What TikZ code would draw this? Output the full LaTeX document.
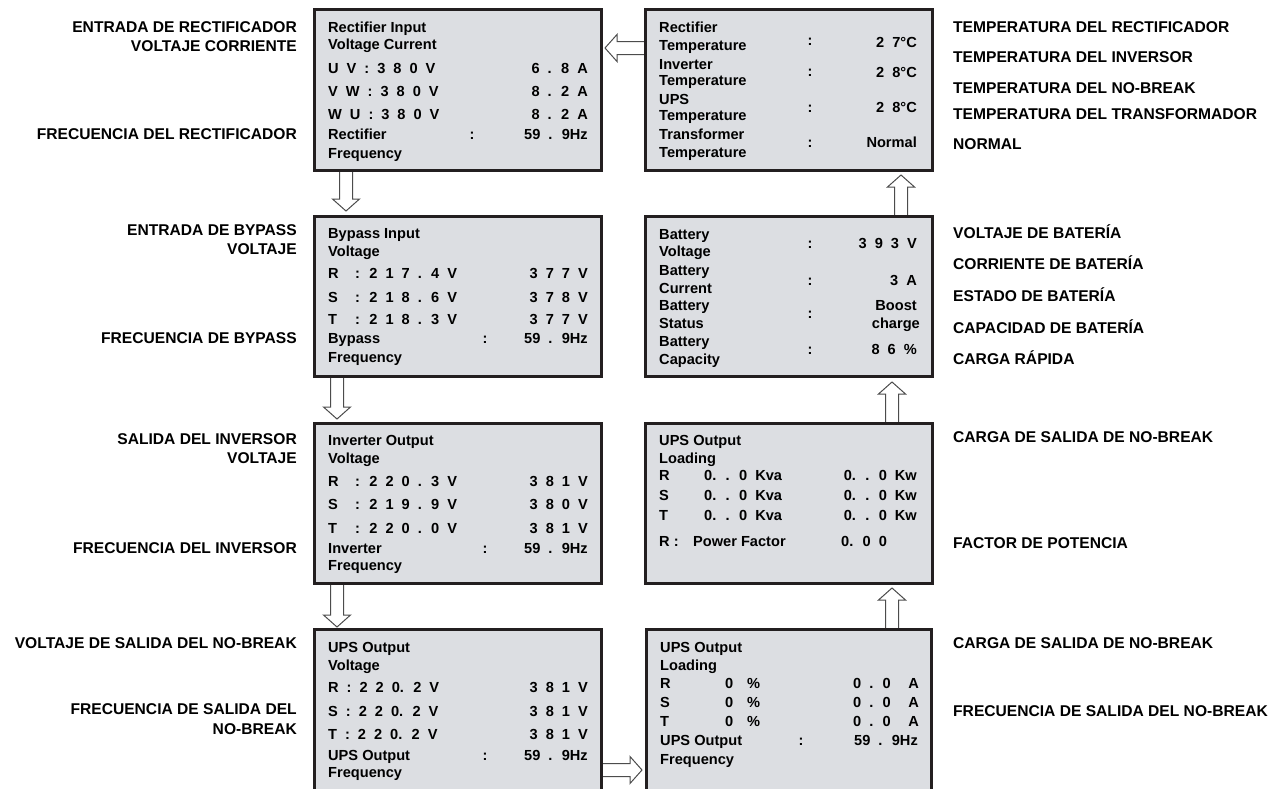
\documentclass[tikz,border=0pt]{standalone}
\usepackage{fontspec}
\setmainfont{Liberation Sans}
\usetikzlibrary{calc, backgrounds}
\definecolor{lcd}{RGB}{220,222,226}
\definecolor{frame}{RGB}{35,31,32}

\begin{document}
\begin{tikzpicture}[x=1pt, y=-1pt,
    panel/.style={rectangle, draw=frame, fill=lcd, line width=3pt, minimum width=287pt, minimum height=160pt, inner sep=0pt, outer sep=0pt},
    txt/.style={anchor=base west, inner sep=0pt, font=\fontsize{14.6}{17}\selectfont\bfseries},
    dat/.style={txt, font={\fontsize{14.6}{17}\selectfont\bfseries\spaceskip=8pt\relax}},
    dval/.style={dat, anchor=base east},
    sep/.style={txt, anchor=base},
    lbl/.style={anchor=base east, inner sep=0pt, font=\fontsize{15.6}{18}\selectfont\bfseries},
    rlbl/.style={lbl, anchor=base west},
    blk/.style={draw=black!70, line width=1pt, fill=white,
        to path={($(\tikztostart)!6.5pt!90:(\tikztotarget)$)
            -- ($(\tikztotarget)!12pt!(\tikztostart)!6.5pt!90:(\tikztotarget)$)
            -- ($(\tikztotarget)!12pt!(\tikztostart)!13.5pt!90:(\tikztotarget)$)
            -- (\tikztotarget)
            -- ($(\tikztotarget)!12pt!(\tikztostart)!13.5pt!-90:(\tikztotarget)$)
            -- ($(\tikztotarget)!12pt!(\tikztostart)!6.5pt!-90:(\tikztotarget)$)
            -- ($(\tikztostart)!6.5pt!-90:(\tikztotarget)$) -- cycle}}
]
\useasboundingbox (0,0) rectangle (1281,788);
\clip (0,0) rectangle (1281,788);

% display panels
\node[panel, minimum height=161pt] (rectin) at (458,90) {};
\node[panel] (bypass) at (458,296.5) {};
\node[panel] (invout) at (458,503.5) {};
\node[panel, minimum height=169pt] (upsvolt) at (458,714) {};
\node[panel, minimum height=161pt] (temp) at (789,90) {};
\node[panel] (batt) at (789,296.5) {};
\node[panel] (loadkw) at (789,503.5) {};
\node[panel, minimum width=285pt, minimum height=169pt] (loadamp) at (789,714) {};

% rectifier input
\node[txt] (rect1) at (328,32) {Rectifier Input};
\node[txt] (rect2) at (328,49) {Voltage Current};
\node[dat] (rect3) at (328,73) {U V : 3 8 0 V};
\node[dval] (rect3v) at (588,73) {6 . 8 A};
\node[dat] (rect4) at (328,96) {V W : 3 8 0 V};
\node[dval] (rect4v) at (588,96) {8 . 2 A};
\node[dat] (rect5) at (328,119) {W U : 3 8 0 V};
\node[dval] (rect5v) at (588,119) {8 . 2 A};
\node[txt] (rect6) at (328,139) {Rectifier};
\node[sep] (rect6c) at (472,139) {:};
\node[dval] (rect6v) at (588,139) {59 . 9Hz};
\node[txt] (rect7) at (328,158) {Frequency};

% bypass input
\node[txt] (byp1) at (328,238) {Bypass Input};
\node[txt] (byp2) at (328,256) {Voltage};
\node[dat] (byp3) at (328,278) {\makebox[27pt][l]{R}: 2 1 7 . 4 V};
\node[dval] (byp3v) at (588,278) {3 7 7 V};
\node[dat] (byp4) at (328,302) {\makebox[27pt][l]{S}: 2 1 8 . 6 V};
\node[dval] (byp4v) at (588,302) {3 7 8 V};
\node[dat] (byp5) at (328,324) {\makebox[27pt][l]{T}: 2 1 8 . 3 V};
\node[dval] (byp5v) at (588,324) {3 7 7 V};
\node[txt] (byp6) at (328,343) {Bypass};
\node[sep] (byp6c) at (485,343) {:};
\node[dval] (byp6v) at (588,343) {59 . 9Hz};
\node[txt] (byp7) at (328,362) {Frequency};

% inverter output
\node[txt] (inv1) at (328,445) {Inverter Output};
\node[txt] (inv2) at (328,463) {Voltage};
\node[dat] (inv3) at (328,486) {\makebox[27pt][l]{R}: 2 2 0 . 3 V};
\node[dval] (inv3v) at (588,486) {3 8 1 V};
\node[dat] (inv4) at (328,509) {\makebox[27pt][l]{S}: 2 1 9 . 9 V};
\node[dval] (inv4v) at (588,509) {3 8 0 V};
\node[dat] (inv5) at (328,533) {\makebox[27pt][l]{T}: 2 2 0 . 0 V};
\node[dval] (inv5v) at (588,533) {3 8 1 V};
\node[txt] (inv6) at (328,553) {Inverter};
\node[sep] (inv6c) at (485,553) {:};
\node[dval] (inv6v) at (588,553) {59 . 9Hz};
\node[txt] (inv7) at (328,570) {Frequency};

% ups output voltage
\node[txt] (uv1) at (328,652) {UPS Output};
\node[txt] (uv2) at (328,670) {Voltage};
\node[dat] (uv3) at (328,692) {R : 2 2 0. 2 V};
\node[dval] (uv3v) at (588,692) {3 8 1 V};
\node[dat] (uv4) at (328,716) {S : 2 2 0. 2 V};
\node[dval] (uv4v) at (588,716) {3 8 1 V};
\node[dat] (uv5) at (328,739) {T : 2 2 0. 2 V};
\node[dval] (uv5v) at (588,739) {3 8 1 V};
\node[txt] (uv6) at (328,760) {UPS Output};
\node[sep] (uv6c) at (485,760) {:};
\node[dval] (uv6v) at (588,760) {59 . 9Hz};
\node[txt] (uv7) at (328,777) {Frequency};

% temperatures
\node[txt] (tmp1) at (659,32) {Rectifier};
\node[txt] (tmp2) at (659,50) {Temperature};
\node[txt] (tmp3) at (659,69) {Inverter};
\node[txt] (tmp4) at (659,85.5) {Temperature};
\node[txt] (tmp5) at (659,104) {UPS};
\node[txt] (tmp6) at (659,120.5) {Temperature};
\node[txt] (tmp7) at (659,139) {Transformer};
\node[txt] (tmp8) at (659,157) {Temperature};
\node[sep] (tmp1c) at (810,45) {:};
\node[dval] (tmp1v) at (917,47) {2 7°C};
\node[sep] (tmp2c) at (810,76) {:};
\node[dval] (tmp2v) at (917,77) {2 8°C};
\node[sep] (tmp3c) at (810,112) {:};
\node[dval] (tmp3v) at (917,112.5) {2 8°C};
\node[sep] (tmp4c) at (810,147) {:};
\node[dval] (tmp4v) at (917,147.5) {Normal};

% battery
\node[txt] (bat1) at (659,239) {Battery};
\node[txt] (bat2) at (659,256) {Voltage};
\node[txt] (bat3) at (659,275.5) {Battery};
\node[txt] (bat4) at (659,293) {Current};
\node[txt] (bat5) at (659,310.5) {Battery};
\node[txt] (bat6) at (659,328) {Status};
\node[txt] (bat7) at (659,346) {Battery};
\node[txt] (bat8) at (659,364) {Capacity};
\node[sep] (bat1c) at (810,248) {:};
\node[dval] (bat1v) at (917,248) {3 9 3 V};
\node[sep] (bat2c) at (810,285) {:};
\node[dval] (bat2v) at (917,285) {3 A};
\node[sep] (bat3c) at (810,318) {:};
\node[dval] (bat3v) at (917,310) {Boost};
\node[dval] (bat3w) at (920,328) {charge};
\node[sep] (bat4c) at (810,354) {:};
\node[dval] (bat4v) at (917,354) {8 6 \%};

% ups output loading (kva / kw)
\node[txt] (kw1) at (659,445) {UPS Output};
\node[txt] (kw2) at (659,463) {Loading};
\node[txt] (kw3) at (659,480) {R};
\node[dat] (kw3a) at (704,480) {0. . 0 Kva};
\node[dval] (kw3b) at (917,480) {0. . 0 Kw};
\node[txt] (kw4) at (659,500) {S};
\node[dat] (kw4a) at (704,500) {0. . 0 Kva};
\node[dval] (kw4b) at (917,500) {0. . 0 Kw};
\node[txt] (kw5) at (659,520) {T};
\node[dat] (kw5a) at (704,520) {0. . 0 Kva};
\node[dval] (kw5b) at (917,520) {0. . 0 Kw};
\node[txt] (kw6) at (659,546) {R :};
\node[txt] (kw6a) at (693,546) {Power Factor};
\node[dat] (kw6b) at (841,546) {0. 0 0};

% ups output loading (% / A)
\node[txt] (amp1) at (660,652) {UPS Output};
\node[txt] (amp2) at (660,670) {Loading};
\node[txt] (amp3) at (660,688) {R};
\node[txt] (amp3a) at (725,688) {0};
\node[txt] (amp3b) at (747,688) {\%};
\node[dat] (amp3c) at (853,688) {0 . 0};
\node[dval] (amp3d) at (919,688) {A};
\node[txt] (amp4) at (660,707) {S};
\node[txt] (amp4a) at (725,707) {0};
\node[txt] (amp4b) at (747,707) {\%};
\node[dat] (amp4c) at (853,707) {0 . 0};
\node[dval] (amp4d) at (919,707) {A};
\node[txt] (amp5) at (660,726) {T};
\node[txt] (amp5a) at (725,726) {0};
\node[txt] (amp5b) at (747,726) {\%};
\node[dat] (amp5c) at (853,726) {0 . 0};
\node[dval] (amp5d) at (919,726) {A};
\node[txt] (amp6) at (660,745) {UPS Output};
\node[sep] (amp6c) at (801,745) {:};
\node[dval] (amp6v) at (918,745) {59 . 9Hz};
\node[txt] (amp7) at (660,764) {Frequency};

% spanish labels, left
\node[lbl] (l1a) at (297,32) {ENTRADA DE RECTIFICADOR};
\node[lbl] (l1b) at (297,51) {VOLTAJE CORRIENTE};
\node[lbl] (l1c) at (297,139) {FRECUENCIA DEL RECTIFICADOR};
\node[lbl] (l2a) at (297,235) {ENTRADA DE BYPASS};
\node[lbl] (l2b) at (297,254) {VOLTAJE};
\node[lbl] (l2c) at (297,343) {FRECUENCIA DE BYPASS};
\node[lbl] (l3a) at (297,444) {SALIDA DEL INVERSOR};
\node[lbl] (l3b) at (297,463) {VOLTAJE};
\node[lbl] (l3c) at (297,553) {FRECUENCIA DEL INVERSOR};
\node[lbl] (l4a) at (297,648) {VOLTAJE DE SALIDA DEL NO-BREAK};
\node[lbl] (l4b) at (297,714) {FRECUENCIA DE SALIDA DEL};
\node[lbl] (l4c) at (297,734) {NO-BREAK};

% spanish labels, right
\node[rlbl] (r1a) at (953,32) {TEMPERATURA DEL RECTIFICADOR};
\node[rlbl] (r1b) at (953,62) {TEMPERATURA DEL INVERSOR};
\node[rlbl] (r1c) at (953,93) {TEMPERATURA DEL NO-BREAK};
\node[rlbl] (r1d) at (953,119) {TEMPERATURA DEL TRANSFORMADOR};
\node[rlbl] (r1e) at (953,149) {NORMAL};
\node[rlbl] (r2a) at (953,238) {VOLTAJE DE BATERÍA};
\node[rlbl] (r2b) at (953,269) {CORRIENTE DE BATERÍA};
\node[rlbl] (r2c) at (953,301) {ESTADO DE BATERÍA};
\node[rlbl] (r2d) at (953,333) {CAPACIDAD DE BATERÍA};
\node[rlbl] (r2e) at (953,364) {CARGA RÁPIDA};
\node[rlbl] (r3a) at (953,442) {CARGA DE SALIDA DE NO-BREAK};
\node[rlbl] (r3b) at (953,548) {FACTOR DE POTENCIA};
\node[rlbl] (r4a) at (953,648) {CARGA DE SALIDA DE NO-BREAK};
\node[rlbl] (r4b) at (953,716) {FRECUENCIA DE SALIDA DEL NO-BREAK};

% arrow ends
\coordinate (a1s) at ([yshift=42pt]temp.west);
\coordinate (a1t) at ([xshift=3.5pt, yshift=42pt]rectin.east);
\coordinate (a2s) at ([xshift=-112pt]rectin.south);
\coordinate (a2t) at ([xshift=-112pt, yshift=5.5pt]bypass.north);
\coordinate (a3s) at ([xshift=-121pt]bypass.south);
\coordinate (a3t) at ([xshift=-121pt, yshift=4.5pt]invout.north);
\coordinate (a4s) at ([xshift=-121pt]invout.south);
\coordinate (a4t) at ([xshift=-121pt, yshift=2.5pt]upsvolt.north);
\coordinate (a5s) at ([yshift=-56pt]upsvolt.east);
\coordinate (a5t) at ([xshift=-4.5pt, yshift=-56pt]loadamp.west);
\coordinate (a6s) at ([xshift=103pt]loadamp.north);
\coordinate (a6t) at ([xshift=103pt, yshift=-4.5pt]loadkw.south);
\coordinate (a7s) at ([xshift=103pt]loadkw.north);
\coordinate (a7t) at ([xshift=103pt, yshift=-5.5pt]batt.south);
\coordinate (a8s) at ([xshift=112pt]batt.north);
\coordinate (a8t) at ([xshift=112pt, yshift=-4.5pt]temp.south);

\begin{scope}[on background layer]
\draw[blk] (a1s) to (a1t);
\draw[blk] (a2s) to (a2t);
\draw[blk] (a3s) to (a3t);
\draw[blk] (a4s) to (a4t);
\draw[blk] (a5s) to (a5t);
\draw[blk] (a6s) to (a6t);
\draw[blk] (a7s) to (a7t);
\draw[blk] (a8s) to (a8t);
\end{scope}
\end{tikzpicture}
\end{document}
